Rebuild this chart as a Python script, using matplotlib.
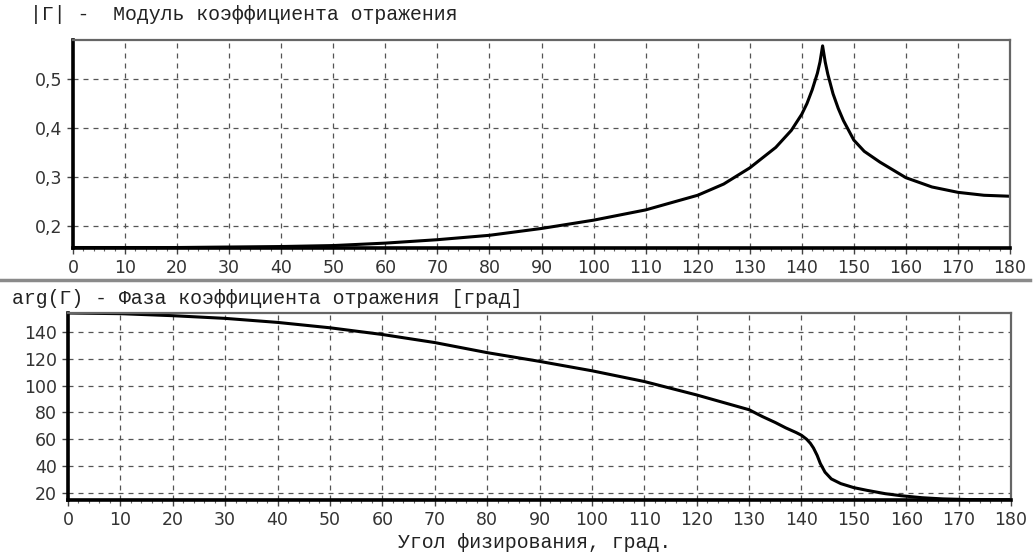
import matplotlib
matplotlib.use("Agg")
import matplotlib.pyplot as plt
from matplotlib.lines import Line2D
from matplotlib.ticker import MultipleLocator

# ---- data ----
angle_mag = [0, 10, 20, 30, 40, 50, 60, 70, 80, 90, 100, 110, 120, 125, 130, 135, 138,
             140, 141, 142, 143, 143.5, 144, 144.5, 145, 146, 147, 148, 150, 152, 155,
             160, 165, 170, 175, 180]
mag = [0.155, 0.155, 0.155, 0.156, 0.157, 0.159, 0.164, 0.171, 0.180, 0.194, 0.211,
       0.232, 0.262, 0.285, 0.318, 0.360, 0.395, 0.428, 0.450, 0.478, 0.512, 0.535,
       0.568, 0.535, 0.510, 0.470, 0.440, 0.415, 0.375, 0.352, 0.330, 0.298, 0.279,
       0.268, 0.262, 0.260]

angle_ph = [0, 10, 20, 30, 40, 50, 60, 70, 80, 90, 100, 110, 120, 130, 132.5, 135,
            137, 139, 140, 141, 141.7, 142.3, 143, 143.6, 144.5, 145.7, 147.5, 150,
            152.5, 156, 159, 163, 167, 172, 180]
phase = [154, 153.5, 152, 150, 147, 143, 138, 132, 124.5, 118, 111, 103, 93, 82, 77,
         72.5, 68.5, 65, 63, 60, 57, 53.5, 48, 42, 35.5, 30.5, 27, 24, 22, 19.5, 18,
         16.5, 15.6, 15.1, 15]

x_ticks = list(range(0, 181, 10))
mag_ticks = [0.2, 0.3, 0.4, 0.5]
mag_labels = ["0,2", "0,3", "0,4", "0,5"]
ph_ticks = [20, 40, 60, 80, 100, 120, 140]

title_top = "|Γ| -  Модуль коэффициента отражения"
title_bot = "arg(Γ) - Фаза коэффициента отражения [град]"
xlabel = "Угол физирования, град."

W, H = 1034, 553
fig = plt.figure(figsize=(W / 100, H / 100), dpi=100)
fig.patch.set_facecolor("white")

def frac_box(l, r, t, b):
    return [l / W, (H - b) / H, (r - l) / W, (b - t) / H]

ax1 = fig.add_axes(frac_box(73, 1010, 40, 248))
ax2 = fig.add_axes(frac_box(68, 1011, 313, 500))

tick_font = dict(family="DejaVu Sans", size=12.5)
title_font = dict(family="Liberation Mono", size=14.3)

def style(ax):
    ax.set_xlim(0, 180)
    ax.set_xticks(x_ticks)
    ax.xaxis.set_minor_locator(MultipleLocator(2))
    ax.grid(True, which="major", linestyle=(0, (4, 4)), color="#555555", linewidth=0.9)
    for s in ("left", "bottom"):
        ax.spines[s].set_linewidth(2.6)
        ax.spines[s].set_color("black")
    for s in ("top", "right"):
        ax.spines[s].set_linewidth(1.6)
        ax.spines[s].set_color("#666666")
    ax.tick_params(axis="both", which="major", length=4, width=1, color="#444444",
                   labelcolor="#333333", pad=4)
    ax.tick_params(axis="x", which="minor", length=2.5, width=0.8, color="#666666")
    for lab in ax.get_xticklabels() + ax.get_yticklabels():
        lab.set_fontfamily(tick_font["family"])
        lab.set_fontsize(tick_font["size"])

ax1.plot(angle_mag, mag, color="black", linewidth=2.2)
ax1.set_ylim(0.154, 0.58)
ax1.set_yticks(mag_ticks)
ax1.set_yticklabels(mag_labels)
style(ax1)

ax2.plot(angle_ph, phase, color="black", linewidth=2.2)
ax2.set_ylim(14.8, 154)
ax2.set_yticks(ph_ticks)
style(ax2)

fig.text(30 / W, (H - 14) / H, title_top, ha="left", va="center", color="#222222", **title_font)
fig.text(12 / W, (H - 298) / H, title_bot, ha="left", va="center", color="#222222", **title_font)
fig.text(535 / W, (H - 543) / H, xlabel, ha="center", va="center", color="#222222", **title_font)

fig.add_artist(Line2D([0, 1030 / W], [(H - 280) / H] * 2, transform=fig.transFigure,
                      color="#8a8a8a", linewidth=2.5))

fig.savefig("out.png", dpi=100)
